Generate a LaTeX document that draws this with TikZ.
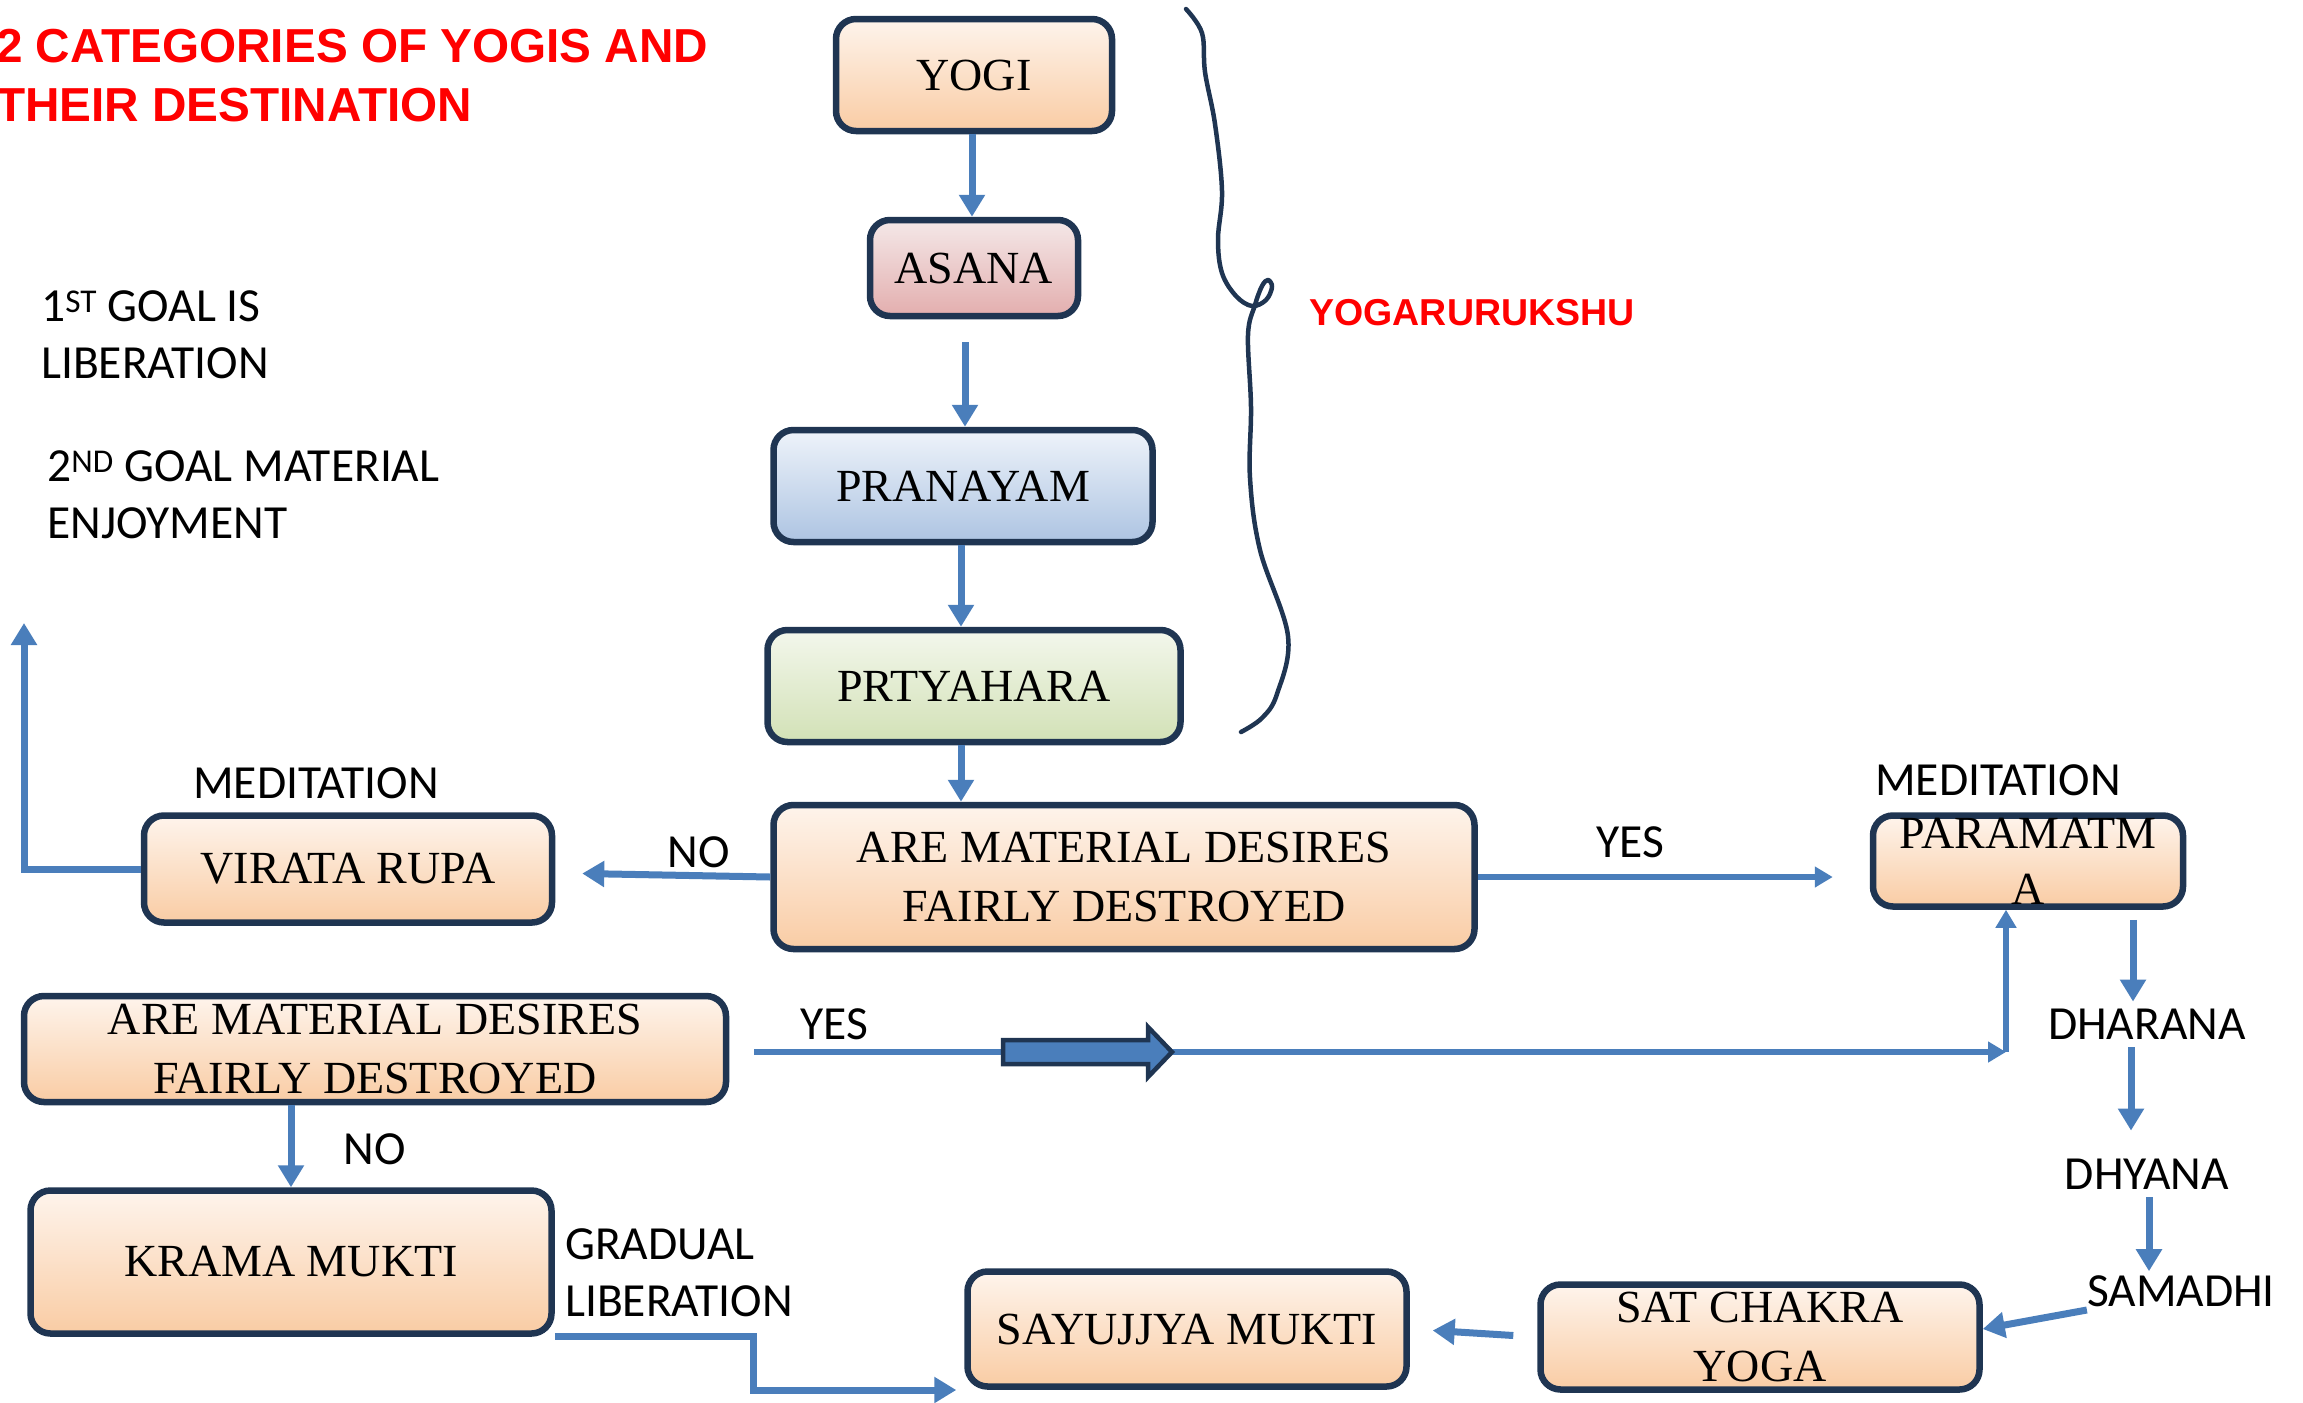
\documentclass[tikz,border=0pt]{standalone}
\usepackage{fontspec}
\setmainfont{Liberation Serif}
\newfontfamily\lblfamily{Carlito}
\newfontfamily\ttlfamily{Liberation Sans}
\usetikzlibrary{arrows.meta}
\definecolor{arrblue}{HTML}{4A7EBB}
\definecolor{navy}{HTML}{1F3552}
\definecolor{peachtop}{HTML}{FEF4EC}
\definecolor{peachbot}{HTML}{F9CCA4}
\definecolor{pinktop}{HTML}{F4E8E8}
\definecolor{pinkbot}{HTML}{E3AEAE}
\definecolor{bluetop}{HTML}{EEF3FA}
\definecolor{bluebot}{HTML}{ADC4E2}
\definecolor{greentop}{HTML}{F3F7EC}
\definecolor{greenbot}{HTML}{D2E1B6}
\definecolor{ttlred}{HTML}{FF0000}
\newcommand\boxfnt{\fontsize{46}{59}\selectfont}
\newcommand\lblfnt{\lblfamily\fontsize{47.5}{57}\selectfont}
\begin{document}
\begin{tikzpicture}[x=1pt,y=-1pt,
  stepbox/.style={draw=navy, line width=6.5pt, rounded corners=20pt,
    top color=peachtop, bottom color=peachbot, align=center,
    font=\boxfnt, inner sep=0pt},
  pinkbox/.style={stepbox, top color=pinktop, bottom color=pinkbot},
  bluebox/.style={stepbox, top color=bluetop, bottom color=bluebot},
  greenbox/.style={stepbox, top color=greentop, bottom color=greenbot},
  lbl/.style={font=\lblfnt, inner sep=0pt},
  arr/.style={draw=arrblue, line width=7pt, -{Triangle[length=22pt,width=25pt]}},
  thinarr/.style={draw=arrblue, line width=5.5pt, -{Triangle[length=18pt,width=20pt]}},
  ttl/.style={font=\ttlfamily\bfseries\fontsize{47.7}{59}\selectfont, text=ttlred, inner sep=0pt}
]
\useasboundingbox (0,0) rectangle (2303,1403);
\clip (0,0) rectangle (2303,1403);

% title and side notes
\node[ttl, anchor=west, align=left] (title) at (-4,76) {2 CATEGORIES OF YOGIS AND\\THEIR DESTINATION};
\node[lbl, anchor=west, align=left] (goal1) at (41,335) {1\textsuperscript{ST} GOAL IS\\LIBERATION};
\node[lbl, anchor=west, align=left] (goal2) at (47,495) {2\textsuperscript{ND} GOAL MATERIAL\\ENJOYMENT};

% boxes
\node[stepbox, minimum width=276pt, minimum height=112pt] (yogi) at (974,75) {YOGI};
\node[pinkbox, minimum width=208pt, minimum height=96pt] (asana) at (974,268) {ASANA};
\node[bluebox, minimum width=379pt, minimum height=112pt] (pranayam) at (963,486) {PRANAYAM};
\node[greenbox, minimum width=413pt, minimum height=112pt] (prtya) at (974,686) {PRTYAHARA};
\node[stepbox, minimum width=701pt, minimum height=144pt] (are1) at (1124,877) {ARE MATERIAL DESIRES\\FAIRLY DESTROYED};
\node[stepbox, minimum width=408pt, minimum height=107pt] (virata) at (348,869) {VIRATA RUPA};
\node[stepbox, minimum width=310pt, minimum height=91pt, font=\fontsize{46}{56}\selectfont] (param) at (2028,861) {PARAMATM\\A};
\node[stepbox, minimum width=702pt, minimum height=106pt] (are2) at (375,1049) {ARE MATERIAL DESIRES\\FAIRLY DESTROYED};
\node[stepbox, minimum width=521pt, minimum height=143pt] (krama) at (291,1262) {KRAMA MUKTI};
\node[stepbox, minimum width=439pt, minimum height=115pt] (sayujjya) at (1187,1329) {SAYUJJYA MUKTI};
\node[stepbox, minimum width=439pt, minimum height=105pt] (satchakra) at (1760,1337) {SAT CHAKRA\\YOGA};

% labels
\node[lbl] (no1) at (699,852) {NO};
\node[lbl] (yes1) at (1630,842) {YES};
\node[lbl] (med1) at (316,783) {MEDITATION};
\node[lbl] (med2) at (1998,780) {MEDITATION};
\node[lbl] (yes2) at (834,1024) {YES};
\node[lbl] (no2) at (375,1149) {NO};
\node[lbl, anchor=west, align=left] (gradual) at (565,1273) {GRADUAL\\LIBERATION};
\node[lbl] (dharana) at (2147,1024) {DHARANA};
\node[lbl] (dhyana) at (2147,1174) {DHYANA};
\node[lbl] (samadhi) at (2181,1291) {SAMADHI};
\node[font=\ttlfamily\bfseries\fontsize{37.5}{45}\selectfont, text=ttlred, inner sep=0pt] (yogaru) at (1472,313) {YOGARURUKSHU};

% brace
\draw[navy, line width=4.5pt, line cap=round, line join=round] plot[smooth, tension=0.6] coordinates {
  (1186,9) (1202,33) (1205,72) (1215,124) (1222,191) (1218,239) (1222,273)
  (1236,296) (1252,306) (1266,300) (1272,287) (1268,280) (1262,286) (1255,305)
  (1248,335) (1251,407) (1250,478) (1260,550) (1288,636) (1277,694) (1262,718) (1241,732)};

% connectors
\draw[arr] ([xshift=-2pt]yogi.south) -- ([xshift=-2pt]yogi.south |- asana.north);
\draw[arr, shorten <=23pt] ([xshift=-9pt]asana.south) -- ([xshift=-9pt]asana.south |- pranayam.north);
\draw[arr] ([xshift=-2pt]pranayam.south) -- ([xshift=-2pt]pranayam.south |- prtya.north);
\draw[arr] ([xshift=-13pt]prtya.south) -- ([xshift=-13pt]prtya.south |- are1.north);
\draw[arr, shorten >=27pt] (are1.west) -- ([yshift=-4pt]virata.east);
\draw[thinarr, shorten >=37pt] (are1.east) -- (are1.east -| param.west);
\coordinate (upend) at (24,623);
\draw[arr] (virata.west) -| (upend);
\coordinate (jn) at (2006,1052);
\draw[thinarr] ([xshift=25pt]are2.east |- jn) -- (jn);
\draw[thinarr] (jn) -- (jn |- param.south);
\draw[arr] (are2.south -| krama) -- (krama.north);
\coordinate (kb) at (753,1390);
\draw[arr, shorten >=8pt] (krama.south east) -| (kb) -- (kb -| sayujjya.west);
\draw[arr, shorten <=24pt, shorten >=23pt] (satchakra.west) -- (sayujjya.east);
\draw[arr] ([yshift=-19pt]samadhi.west) -- ([yshift=8pt]satchakra.east);
\draw[arr, shorten <=10pt, shorten >=7pt] ([xshift=105pt]param.south) -- ([xshift=105pt]param.south |- dharana.north);
\draw[arr, shorten <=8pt, shorten >=28pt] ([xshift=-16pt]dharana.south) -- ([xshift=-16pt]dharana.south |- dhyana.north);
\draw[arr, shorten <=8pt, shorten >=4pt] ([xshift=2pt]dhyana.south) -- ([xshift=2pt]dhyana.south |- samadhi.north);

% block arrow on the lower YES line
\draw[fill=arrblue, draw=navy, line width=4.5pt, line join=miter]
  (1003,1040) -- (1148,1040) -- (1148,1027) -- (1172,1052) -- (1148,1077) -- (1148,1064) -- (1003,1064) -- cycle;
\end{tikzpicture}
\end{document}
